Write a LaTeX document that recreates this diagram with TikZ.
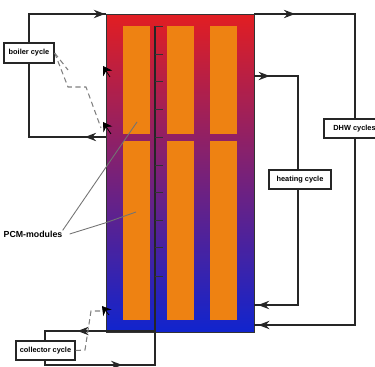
\documentclass[tikz,border=0pt]{standalone}
\usepackage{fontspec}
\setmainfont{Liberation Sans}
\usetikzlibrary{arrows.meta,decorations.markings}
\definecolor{pcmorange}{RGB}{238,130,18}
\definecolor{tankred}{RGB}{226,30,34}
\definecolor{tankmid}{RGB}{122,34,128}
\definecolor{tankblue}{RGB}{16,36,206}
\tikzset{
    pipe/.style={draw=black!85,line width=0.9pt},
    flow/.style={pipe,postaction={decorate},decoration={markings,mark=at position #1 with {\arrow[scale=0.9]{Stealth}}}},
    cyclebox/.style={draw=black!85,line width=0.8pt,fill=white,inner sep=0pt,font=\fontsize{4.2}{5}\selectfont\bfseries},
    pcm/.style={fill=pcmorange,inner sep=0pt,minimum width=0.54cm},
    leader/.style={draw=black!55,line width=0.5pt},
    signal/.style={draw=black!50,line width=0.6pt,densely dashed},
    sensor/.style={draw=black,line width=0.4pt,-{Stealth[length=5pt,width=6pt]}}
}
\begin{document}
\begin{tikzpicture}[x=0.02cm,y=-0.02cm]
    \useasboundingbox (0,0) rectangle (375,367);
    % storage tank
    \node[draw=black!80,line width=0.5pt,inner sep=0pt,minimum width=2.96cm,minimum height=6.36cm,top color=tankred,middle color=tankmid,bottom color=tankblue] (tank) at (180,173) {};
    \foreach \name/\x in {a/136.5,b/180,c/223.5} {
        \node[pcm,minimum height=2.16cm] (top\name) at (\x,80) {};
        \node[pcm,minimum height=3.58cm] (low\name) at (\x,230.5) {};
    }
    % middle pipe with ticks
    \coordinate (pipetop) at (155,26);
    \coordinate (pipebot) at (155,331);
    \draw[black!85,line width=0.7pt] (pipetop)--(pipebot);
    \foreach \y in {26,54,81,109,137,165,192,220,247,276}
        \draw[black!80,line width=0.4pt] (155,\y)--(163,\y);
    % labels
    \node[cyclebox,minimum width=1cm,minimum height=0.4cm] (boiler) at (29,53) {boiler cycle};
    \node[cyclebox,minimum width=1.18cm,minimum height=0.38cm] (collector) at (45.5,350.5) {collector cycle};
    \node[cyclebox,minimum width=1.24cm,minimum height=0.38cm] (heating) at (300,179.5) {heating cycle};
    \node[cyclebox,minimum width=1.04cm,minimum height=0.38cm] (dhw) at (350,128.5) {\hspace{0.18cm}DHW cycles};
    \node[inner sep=0pt,font=\fontsize{5}{6}\selectfont\bfseries] (modules) at (33,234) {PCM-modules};
    % end points on the tank
    \coordinate (boilerin) at (106,14);
    \coordinate (boilerout) at (106,137);
    \coordinate (heatout) at (254,76);
    \coordinate (heatin) at (254,305);
    \coordinate (dhwout) at (254,14);
    \coordinate (dhwin) at (254,325);
    % boiler cycle
    \draw[flow=0.99] (boiler.north -| 29,43)--(29,14)--(boilerin);
    \draw[flow=0.14] (boilerout)--(29,137)--(boiler.south -| 29,63);
    % collector cycle
    \draw[flow=0.65] (pipebot)--(45,331)--(collector.north -| 45,341);
    \draw[flow=0.55] (collector.south -| 45,360)--(45,365)--(155,365)--(pipebot);
    % heating cycle
    \draw[flow=0.115] (heatout)--(298,76)--(heating.north -| 298,170);
    \draw[flow=0.975] (heating.south -| 298,189)--(298,305)--(heatin);
    % DHW cycle
    \draw[flow=0.2] (dhwout)--(355,14)--(dhw.north -| 355,119);
    \draw[flow=0.985] (dhw.south -| 355,138)--(355,325)--(dhwin);
    % sensors
    \draw[sensor] (110,77)--(103,66);
    \draw[sensor] (111,134)--(103,122);
    \draw[sensor] (109,315)--(102,306);
    \draw[signal] (boiler.east)--(68,70);
    \draw[signal] (boiler.east)--(68,87)--(86,87)--(101,128);
    \draw[signal] (collector.east)--(85,350)--(91,311)--(100,311);
    % module leaders
    \draw[leader] (modules.north east)--(137,122);
    \draw[leader] ([xshift=0.14cm]modules.east)--(105,223)--(136,212);
\end{tikzpicture}
\end{document}
